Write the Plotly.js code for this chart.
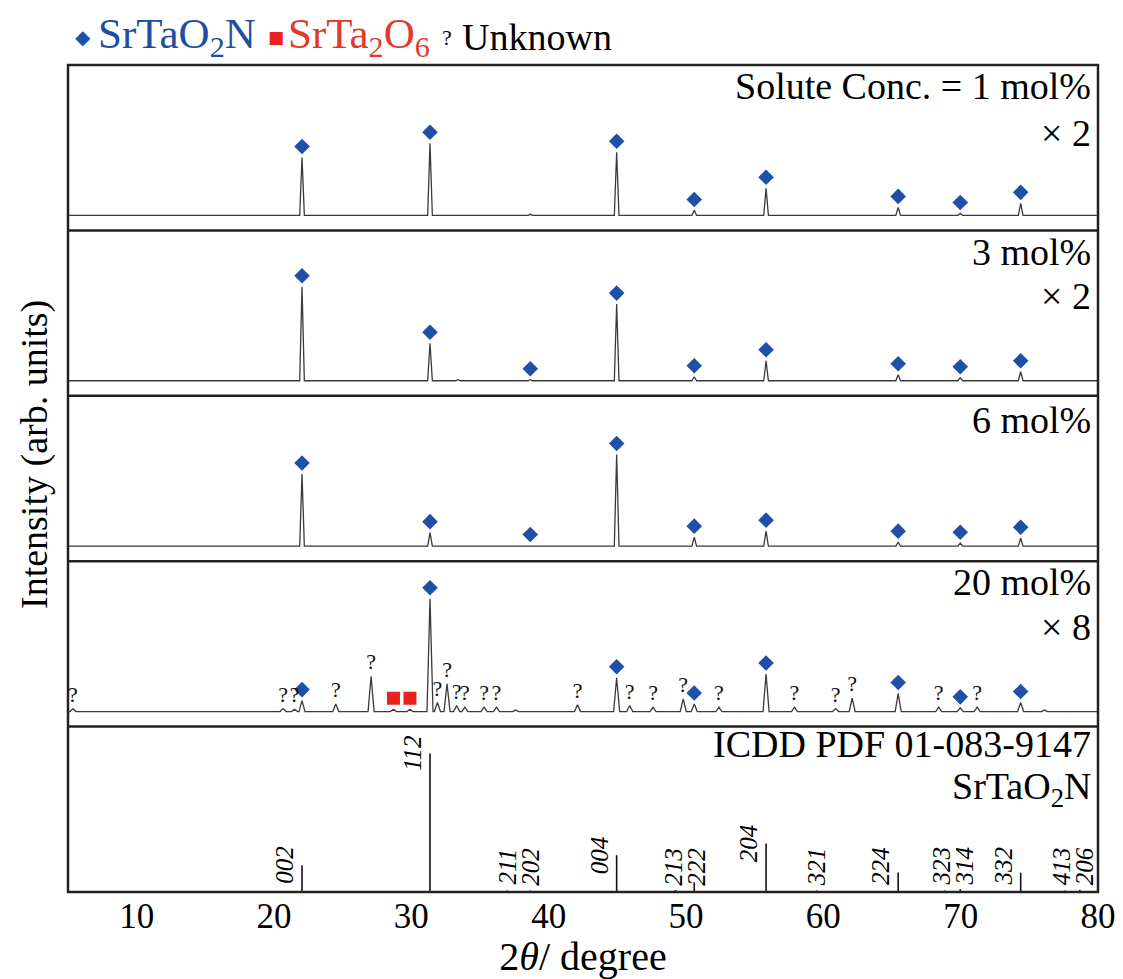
<!DOCTYPE html>
<html><head><meta charset="utf-8">
<script src="https://cdn.plot.ly/plotly-3.0.1.min.js"></script>
<style>body{margin:0;background:#fff}#chart{width:1123px;height:979px}</style>
</head><body><div id="chart"></div>
<script>
// ---------------- DATA ----------------
const xTicks = [10, 20, 30, 40, 50, 60, 70, 80];

// SrTaO2N peaks (marked with diamonds)
const sto1Pos = [22.04, 31.36, 44.95, 50.60, 55.83, 65.45, 69.97, 74.37];
const sto1Int = [38.5, 48, 42, 3.3, 18, 5.3, 1.3, 8];
const minor1Pos = [38.66];
const minor1Int = [0.7];

const sto3Pos = [22.04, 31.36, 38.66, 44.95, 50.60, 55.83, 65.45, 69.97, 74.37];
const sto3Int = [62.5, 25, 0.7, 51, 2.7, 13.3, 4, 2, 6];
const minor3Pos = [33.4];
const minor3Int = [0.7];

const sto6Pos = [22.04, 31.36, 38.66, 44.95, 50.60, 55.83, 65.45, 69.97, 74.37];
const sto6Int = [48, 9, 0.5, 61, 6, 10, 2.7, 2, 5.3];
const minor6Pos = [];
const minor6Int = [];

const sto20Pos = [22.04, 31.36, 44.95, 50.60, 55.83, 65.45, 69.97, 74.37];
const sto20Int = [7.3, 75, 22.5, 5, 25, 12, 2.5, 6];
const sta20Pos = [28.7, 29.9];          // SrTa2O6 (red squares)
const sta20Int = [1.5, 1.5];
const unk20Pos = [5.36, 20.66, 21.5, 24.5, 27.07, 31.9, 32.6, 33.3, 33.9, 35.3, 36.2, 42.1, 45.9, 47.6, 49.8, 52.4, 57.9, 60.9, 62.1, 68.4, 71.2];
const unk20Int = [2, 2, 1.5, 5, 23.5, 6, 18.5, 4, 3, 3, 3, 4.5, 4, 3, 8.5, 3, 3, 2, 9, 3, 3];
const minor20Pos = [37.6, 76.1];
const minor20Int = [1, 1];

// ICDD PDF 01-083-9147 SrTaO2N reference sticks
const refPos = [22.04, 31.36, 36.97, 38.66, 44.95, 49.23, 50.60, 55.83, 59.53, 65.45, 68.85, 69.97, 74.37, 77.61, 78.67];
const refInt = [19.4, 100, 1, 1, 26.6, 1.5, 7, 35, 1, 14, 1, 2, 14, 1, 1.5];
const refHkl = ['002', '112', '211', '202', '004', '213', '222', '204', '321', '224', '323', '314', '332', '413', '206'];

const panelText = [
  ['Solute Conc. = 1 mol%', '× 2'],
  ['3 mol%', '× 2'],
  ['6 mol%'],
  ['20 mol%', '× 8'],
  ['ICDD PDF 01-083-9147', 'SrTaO<sub>2</sub>N']
];

// ---------------- STYLE ----------------
const SERIF = 'Liberation Serif, Times New Roman, serif';
const BLUE = '#1f50a8';
const RED = '#e8231f';
const LINE = '#3a3a3a';
const MARK_OFF = 7.3;   // marker offset above peak top (data units)
const Q_OFF = 8.2;

function profile(groups, hw) {
  const pk = [];
  groups.forEach(g => g.pos.forEach((p, i) => pk.push([p, g.int[i]])));
  pk.sort((a, b) => a[0] - b[0]);
  const xs = [5], ys = [0];
  pk.forEach(([p, h]) => { xs.push(p - hw, p, p + hw); ys.push(0, h, 0); });
  xs.push(80); ys.push(0);
  return {xs, ys};
}

const samples = [
  {ax: 'y',  groups: [{pos: sto1Pos, int: sto1Int}, {pos: minor1Pos, int: minor1Int}], sto: [sto1Pos, sto1Int], hw: 0.17},
  {ax: 'y2', groups: [{pos: sto3Pos, int: sto3Int}, {pos: minor3Pos, int: minor3Int}], sto: [sto3Pos, sto3Int], hw: 0.17},
  {ax: 'y3', groups: [{pos: sto6Pos, int: sto6Int}, {pos: minor6Pos, int: minor6Int}], sto: [sto6Pos, sto6Int], hw: 0.17},
  {ax: 'y4', groups: [{pos: sto20Pos, int: sto20Int}, {pos: sta20Pos, int: sta20Int}, {pos: unk20Pos, int: unk20Int}, {pos: minor20Pos, int: minor20Int}], sto: [sto20Pos, sto20Int], hw: 0.22}
];

const traces = [];
samples.forEach(s => {
  const pr = profile(s.groups, s.hw);
  traces.push({x: pr.xs, y: pr.ys, yaxis: s.ax, mode: 'lines', line: {color: LINE, width: 1.3}, hoverinfo: 'skip'});
  traces.push({x: s.sto[0], y: s.sto[1].map(v => v + MARK_OFF), yaxis: s.ax, mode: 'markers',
    marker: {symbol: 'diamond', size: 12, color: BLUE}, cliponaxis: false, hoverinfo: 'skip'});
});
traces.push({x: sta20Pos, y: sta20Int.map(v => v + MARK_OFF), yaxis: 'y4', mode: 'markers',
  marker: {symbol: 'square', size: 13, color: RED}, hoverinfo: 'skip'});
traces.push({x: unk20Pos, y: unk20Int.map(v => v + Q_OFF), yaxis: 'y4', mode: 'text', text: unk20Pos.map(() => '?'),
  textposition: 'middle center', textfont: {family: SERIF, size: 22, color: '#111'}, cliponaxis: false, hoverinfo: 'skip'});

// reference sticks
const sx = [], sy = [];
refPos.forEach((p, i) => { sx.push(p, p, null); sy.push(0, refInt[i], null); });
traces.push({x: sx, y: sy, yaxis: 'y5', mode: 'lines', line: {color: '#111', width: 1.6}, hoverinfo: 'skip'});

// ---------------- LAYOUT ----------------
const W = 1123, H = 979, L = 68, R = 25, T = 65, B = 87;
const PW = W - L - R, PH = H - T - B;
const XMIN = 5, XMAX = 80;
const px2x = px => (px - L) / PW;
const px2y = py => (H - B - py) / PH;
const data2px = v => (v - XMIN) / (XMAX - XMIN) * PW;

const annotations = [];
const textY = [[86, 133], [252, 296], [420], [582, 627], [744, 789]];
panelText.forEach((lines, k) => lines.forEach((t, j) => annotations.push({
  xref: 'paper', yref: 'paper', x: px2x(1093), y: px2y(textY[k][j]), xanchor: 'right', yanchor: 'middle',
  text: t, showarrow: false, font: {family: SERIF, size: 38, color: '#000'}
})));

// hkl labels: small-stick labels are centred on their stick, pairs that collide are pushed apart
const MIN_GAP = 23;
const shifts = refPos.map(() => 0);
for (let i = 0; i + 1 < refPos.length; i++) {
  const d = data2px(refPos[i + 1]) - data2px(refPos[i]);
  if (refInt[i] < 10 && refInt[i + 1] < 10 && d < MIN_GAP) {
    shifts[i] -= (MIN_GAP - d) / 2;
    shifts[i + 1] += (MIN_GAP - d) / 2;
  }
}
refPos.forEach((p, i) => {
  const small = refInt[i] < 10;
  annotations.push({
    x: p, y: Math.max(refInt[i], 18.5), xref: 'x', yref: 'y5', textangle: -90,
    xanchor: small ? 'center' : 'right', xshift: small ? shifts[i] : -2, yanchor: 'middle',
    text: '<i>' + refHkl[i] + '</i>', showarrow: false, font: {family: SERIF, size: 25, color: '#000'}
  });
});

// legend row
const legY = px2y(37);
annotations.push({xref: 'paper', yref: 'paper', x: px2x(83), y: legY, xanchor: 'center', yanchor: 'middle', showarrow: false, text: '◆', font: {family: 'DejaVu Sans', size: 20, color: BLUE}});
annotations.push({xref: 'paper', yref: 'paper', x: px2x(96), y: legY, xanchor: 'left', yanchor: 'middle', showarrow: false, text: 'SrTaO<sub>2</sub>N', font: {family: SERIF, size: 43, color: '#1d4f9e'}});
annotations.push({xref: 'paper', yref: 'paper', x: px2x(276), y: legY, xanchor: 'center', yanchor: 'middle', showarrow: false, text: '■', font: {family: 'DejaVu Sans', size: 17, color: RED}});
annotations.push({xref: 'paper', yref: 'paper', x: px2x(286), y: legY, xanchor: 'left', yanchor: 'middle', showarrow: false, text: 'SrTa<sub>2</sub>O<sub>6</sub>', font: {family: SERIF, size: 43, color: '#e03a2a'}});
annotations.push({xref: 'paper', yref: 'paper', x: px2x(447), y: legY, xanchor: 'center', yanchor: 'middle', showarrow: false, text: '?', font: {family: SERIF, size: 22, color: '#000'}});
annotations.push({xref: 'paper', yref: 'paper', x: px2x(460), y: legY, xanchor: 'left', yanchor: 'middle', showarrow: false, text: 'Unknown', font: {family: SERIF, size: 38, color: '#000'}});

// y-axis title
annotations.push({xref: 'paper', yref: 'paper', x: px2x(34), y: px2y(455), xanchor: 'center', yanchor: 'middle', textangle: -90,
  showarrow: false, text: 'Intensity (arb. units)', font: {family: SERIF, size: 38, color: '#000'}});

const shapes = [{type: 'rect', xref: 'paper', yref: 'paper', x0: 0, x1: 1, y0: 0, y1: 1, line: {color: '#222', width: 2.5}}];
[0.2, 0.4, 0.6, 0.8].forEach(v => shapes.push({type: 'line', xref: 'paper', yref: 'paper', x0: 0, x1: 1, y0: v, y1: v, line: {color: '#222', width: 2.5}}));

const yBase = {visible: false, fixedrange: true, anchor: 'x', range: [-10, 100]};
const layout = {
  width: W, height: H, margin: {l: L, r: R, t: T, b: B},
  paper_bgcolor: '#fff', plot_bgcolor: '#fff', showlegend: false,
  font: {family: SERIF, color: '#000'},
  xaxis: {range: [XMIN, XMAX], tickvals: xTicks, ticks: '', showgrid: false, zeroline: false, showline: false,
    anchor: 'y5', tickfont: {family: SERIF, size: 35, color: '#000'},
    title: {text: '2<i>θ</i>/ degree', font: {family: SERIF, size: 40, color: '#000'}, standoff: 6}},
  yaxis: Object.assign({}, yBase, {domain: [0.8, 1]}),
  yaxis2: Object.assign({}, yBase, {domain: [0.6, 0.8]}),
  yaxis3: Object.assign({}, yBase, {domain: [0.4, 0.6]}),
  yaxis4: Object.assign({}, yBase, {domain: [0.2, 0.4]}),
  yaxis5: Object.assign({}, yBase, {domain: [0, 0.2], range: [0, 119.5]}),
  annotations, shapes
};

Plotly.newPlot('chart', traces, layout, {staticPlot: true});
</script>
</body></html>
